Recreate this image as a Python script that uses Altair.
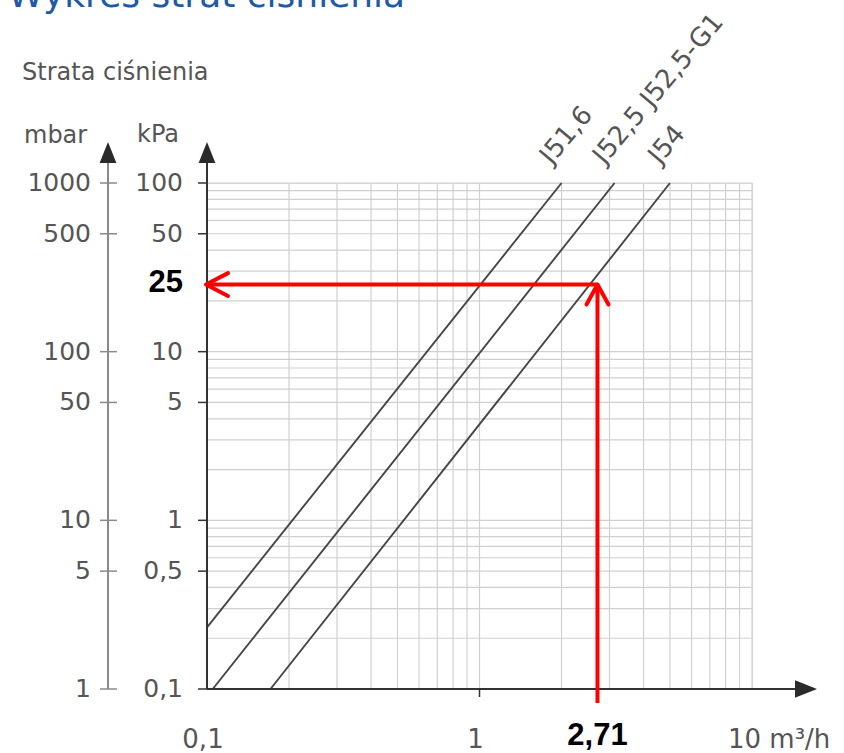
import altair as alt
import pandas as pd

# ---- valve curves: flow (m³/h) and pressure loss (kPa) at the two ends of each line
curve_names = ["J51,6", "J52,5 J52,5-G1", "J54"]
curve_q_start = [0.1, 0.105, 0.171]
curve_p_start = [0.232, 0.1, 0.1]
curve_q_end = [2.0, 3.13, 5.0]
curve_p_end = [100, 100, 100]

# ---- logarithmic grid lines
grid_q = [0.1, 0.2, 0.3, 0.4, 0.5, 0.6, 0.7, 0.8, 0.9,
          1, 2, 3, 4, 5, 6, 7, 8, 9, 10]
grid_p = [0.1, 0.2, 0.3, 0.4, 0.5, 0.6, 0.7, 0.8, 0.9,
          1, 2, 3, 4, 5, 6, 7, 8, 9,
          10, 20, 30, 40, 50, 60, 70, 80, 90, 100]

# ---- axis ticks and labels
kpa_ticks = [0.1, 0.5, 1, 5, 10, 50, 100]
kpa_labels = ["0,1", "0,5", "1", "5", "10", "50", "100"]
mbar_labels = ["1", "5", "10", "50", "100", "500", "1000"]
q_ticks = [0.1, 1, 10]
q_labels = ["0,1", "1", "10 m³/h"]

# ---- worked example: reading at the J54 line
read_q = [2.71]
read_p = [25]
read_q_label = ["2,71"]
read_p_label = ["25"]

FONT = "DejaVu Sans"
GREY = "#555555"
DARK = "#333333"
RED = "#ff0000"

W, H = 545, 506

xs = alt.Scale(type="log", domain=[0.1, 10], nice=False)
ys = alt.Scale(type="log", domain=[0.1, 100], nice=False)


def X(field):
    return alt.X(field, type="quantitative", scale=xs, axis=None)


def Y(field):
    return alt.Y(field, type="quantitative", scale=ys, axis=None)


one = alt.Data(values=[{"k": 0}])

curve_rows = []
for n, q0, p0, q1, p1 in zip(curve_names, curve_q_start, curve_p_start, curve_q_end, curve_p_end):
    curve_rows.append({"name": n, "q": q0, "p": p0})
    curve_rows.append({"name": n, "q": q1, "p": p1})
curves_df = pd.DataFrame(curve_rows)
curve_labels_df = pd.DataFrame({"name": curve_names, "q": curve_q_end, "p": curve_p_end})

ticks_df = pd.DataFrame({"p": kpa_ticks, "kpa": kpa_labels, "mbar": mbar_labels})
qlab_df = pd.DataFrame({"q": q_ticks, "label": q_labels})
read_df = pd.DataFrame({"q": read_q, "p": read_p, "ql": read_q_label, "pl": read_p_label})

# grid
grid_v = alt.Chart(pd.DataFrame({"q": grid_q})).mark_rule(
    color="#d0d0d0", strokeWidth=1.2).encode(x=X("q"))
grid_h = alt.Chart(pd.DataFrame({"p": grid_p})).mark_rule(
    color="#d0d0d0", strokeWidth=1.2).encode(y=Y("p"))

# valve curves, labelled along their direction past the top end
curves = alt.Chart(curves_df).mark_line(color="#454545", strokeWidth=1.9).encode(
    x=X("q"), y=Y("p"), detail="name:N")
curve_text = alt.Chart(curve_labels_df).mark_text(
    angle=310, align="left", baseline="alphabetic", dx=7, dy=-19,
    font=FONT, fontSize=26, color=GREY).encode(x=X("q"), y=Y("p"), text="name:N")

# axes: lines, arrows, ticks
kpa_line = alt.Chart(one).mark_rule(color=DARK, strokeWidth=2).encode(
    x=alt.value(0), y=alt.value(-20), y2=alt.value(H))
mbar_line = alt.Chart(one).mark_rule(color="#8a8a8a", strokeWidth=2).encode(
    x=alt.value(-99), y=alt.value(-20), y2=alt.value(H))
q_line = alt.Chart(one).mark_rule(color=DARK, strokeWidth=2).encode(
    x=alt.value(0), x2=alt.value(590), y=alt.value(H))

up_tri = "M0,-1L0.8,1L-0.8,1Z"
right_tri = "M1,0L-1,-0.8L-1,0.8Z"
kpa_arrow = alt.Chart(one).mark_point(shape=up_tri, filled=True, size=441, opacity=1,
                                      color="#2a2a2a").encode(
    x=alt.value(0), y=alt.value(-30.5))
mbar_arrow = alt.Chart(one).mark_point(shape=up_tri, filled=True, size=441, opacity=1,
                                       color="#2a2a2a").encode(
    x=alt.value(-99), y=alt.value(-30.5))
q_arrow = alt.Chart(one).mark_point(shape=right_tri, filled=True, size=484, opacity=1,
                                    color="#2a2a2a").encode(
    x=alt.value(599), y=alt.value(H))

kpa_ticks_m = alt.Chart(ticks_df).mark_rule(color=DARK, strokeWidth=1.5).encode(
    x=alt.value(-9), x2=alt.value(0), y=Y("p"))
mbar_ticks_m = alt.Chart(ticks_df).mark_rule(color="#8a8a8a", strokeWidth=1.5).encode(
    x=alt.value(-107), x2=alt.value(-90), y=Y("p"))
kpa_text = alt.Chart(ticks_df).mark_text(
    align="right", baseline="middle", font=FONT, fontSize=25, color=GREY).encode(
    x=alt.value(-24), y=Y("p"), text="kpa:N")
mbar_text = alt.Chart(ticks_df).mark_text(
    align="right", baseline="middle", font=FONT, fontSize=25, color=GREY).encode(
    x=alt.value(-116), y=Y("p"), text="mbar:N")

q_tick_m = alt.Chart(qlab_df.iloc[1:2]).mark_rule(color=DARK, strokeWidth=1.5).encode(
    x=X("q"), y=alt.value(H), y2=alt.value(H + 8))
q_text_mid = alt.Chart(qlab_df.iloc[:2]).mark_text(
    align="center", baseline="alphabetic", dx=-4, font=FONT, fontSize=26, color=GREY).encode(
    x=X("q"), y=alt.value(H + 59), text="label:N")
q_text_end = alt.Chart(qlab_df.iloc[2:]).mark_text(
    align="left", baseline="alphabetic", dx=-24, font=FONT, fontSize=26, color=GREY).encode(
    x=X("q"), y=alt.value(H + 59), text="label:N")

# headings
heading_text = ["Strata ciśnienia", "mbar", "kPa"]
heading_left = [-185, -183, -70]
heading_base = [-103, -40, -41]
headings = alt.layer(*[
    alt.Chart(one).mark_text(
        align="left", baseline="alphabetic", font=FONT, fontSize=24, color=GREY, text=t
    ).encode(x=alt.value(xl), y=alt.value(yb))
    for t, xl, yb in zip(heading_text, heading_left, heading_base)
])
title = alt.Chart(one).mark_text(
    align="left", baseline="alphabetic", font=FONT, fontSize=36, color="#1e5aa6",
    text="Wykres strat ciśnienia").encode(x=alt.value(-199), y=alt.value(-176))

# worked example in red
red_h = alt.Chart(read_df).mark_rule(color=RED, strokeWidth=4).encode(
    x=X("q"), x2=alt.value(0), y=Y("p"))
red_v = alt.Chart(read_df).mark_rule(color=RED, strokeWidth=4).encode(
    x=X("q"), y=Y("p"), y2=alt.value(H + 14))
red_left = alt.Chart(read_df).mark_point(
    shape="M1,-0.52L0,0L1,0.52", filled=False, size=1936, opacity=1, color=RED,
    strokeWidth=4, strokeCap="round", strokeJoin="round").encode(
    x=alt.value(-1), y=Y("p"))
red_up = alt.Chart(read_df).mark_point(
    shape="M-0.55,1L0,0L0.55,1", filled=False, size=1600, opacity=1, color=RED,
    strokeWidth=4, strokeCap="round", strokeJoin="round").encode(
    x=X("q"), y=Y("p"))
red_p_text = alt.Chart(read_df).mark_text(
    align="right", baseline="middle", font="Liberation Sans", fontWeight="bold",
    fontSize=31, color="black", dy=-2).encode(x=alt.value(-24), y=Y("p"), text="pl:N")
red_q_text = alt.Chart(read_df).mark_text(
    align="center", baseline="alphabetic", font="Liberation Sans", fontWeight="bold",
    fontSize=31, color="black").encode(x=X("q"), y=alt.value(H + 56), text="ql:N")

chart = alt.layer(
    grid_v, grid_h, curves, curve_text,
    kpa_line, mbar_line, q_line, kpa_arrow, mbar_arrow, q_arrow,
    kpa_ticks_m, mbar_ticks_m, kpa_text, mbar_text,
    q_tick_m, q_text_mid, q_text_end, headings, title,
    red_h, red_v, red_left, red_up, red_p_text, red_q_text,
).properties(
    width=W, height=H,
    autosize=alt.AutoSizeParams(type="none"),
    padding={"left": 207, "top": 183, "right": 92, "bottom": 64},
).configure_view(stroke=None).configure(background="white")

chart.save("out.html", embed_options={"renderer": "svg", "actions": False})
